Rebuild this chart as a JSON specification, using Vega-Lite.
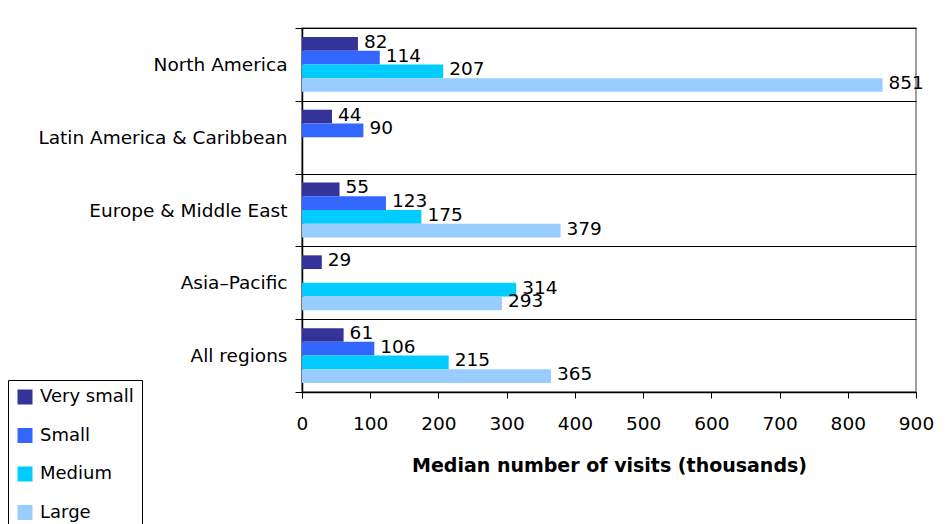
{
  "$schema": "https://vega.github.io/schema/vega-lite/v6.json",
  "autosize": {"type": "none"},
  "width": 614,
  "height": 364,
  "padding": {"left": 302, "top": 28, "right": 36, "bottom": 132},
  "background": "white",
  "config": {
    "font": "DejaVu Sans",
    "view": {"stroke": "#808080", "strokeWidth": 1.5}
  },
  "data": {
    "values": [
      {"region": "North America", "size": "Very small", "value": 82},
      {"region": "North America", "size": "Small", "value": 114},
      {"region": "North America", "size": "Medium", "value": 207},
      {"region": "North America", "size": "Large", "value": 851},
      {"region": "Latin America & Caribbean", "size": "Very small", "value": 44},
      {"region": "Latin America & Caribbean", "size": "Small", "value": 90},
      {"region": "Europe & Middle East", "size": "Very small", "value": 55},
      {"region": "Europe & Middle East", "size": "Small", "value": 123},
      {"region": "Europe & Middle East", "size": "Medium", "value": 175},
      {"region": "Europe & Middle East", "size": "Large", "value": 379},
      {"region": "Asia–Pacific", "size": "Very small", "value": 29},
      {"region": "Asia–Pacific", "size": "Medium", "value": 314},
      {"region": "Asia–Pacific", "size": "Large", "value": 293},
      {"region": "All regions", "size": "Very small", "value": 61},
      {"region": "All regions", "size": "Small", "value": 106},
      {"region": "All regions", "size": "Medium", "value": 215},
      {"region": "All regions", "size": "Large", "value": 365}
    ]
  },
  "encoding": {
    "y": {
      "field": "region",
      "type": "nominal",
      "sort": ["North America", "Latin America & Caribbean", "Europe & Middle East", "Asia–Pacific", "All regions"],
      "scale": {"paddingInner": 0, "paddingOuter": 0},
      "axis": {
        "title": null,
        "tickBand": "extent",
        "tickSize": 7,
        "tickColor": "black",
        "domainColor": "black",
        "domainWidth": 1.5,
        "grid": true,
        "gridColor": "black",
        "gridWidth": 1.2,
        "gridOpacity": 1,
        "labelFontSize": 18.5,
        "labelColor": "black",
        "labelPadding": 8,
        "labelLimit": 0,
        "labelFont": "DejaVu Sans"
      }
    },
    "yOffset": {
      "field": "size",
      "type": "nominal",
      "sort": ["Very small", "Small", "Medium", "Large"],
      "scale": {"paddingInner": 0, "paddingOuter": 0.65}
    },
    "x": {
      "field": "value",
      "type": "quantitative",
      "scale": {"domain": [0, 900], "nice": false},
      "axis": {
        "title": "Median number of visits (thousands)",
        "values": [0, 100, 200, 300, 400, 500, 600, 700, 800, 900],
        "grid": false,
        "tickSize": 6,
        "tickColor": "black",
        "domainColor": "black",
        "domainWidth": 1.5,
        "labelFontSize": 18.5,
        "labelColor": "black",
        "labelPadding": 16,
        "labelFlush": false,
        "titleFontSize": 19,
        "titleFontWeight": "bold",
        "titleColor": "black",
        "titlePadding": 24
      }
    }
  },
  "layer": [
    {
      "mark": {"type": "bar"},
      "encoding": {
        "color": {
          "field": "size",
          "type": "nominal",
          "sort": ["Very small", "Small", "Medium", "Large"],
          "scale": {
            "domain": ["Very small", "Small", "Medium", "Large"],
            "range": ["#333399", "#3366FF", "#00CCFF", "#99CCFF"]
          },
          "legend": {
            "title": null,
            "orient": "none",
            "legendX": -294,
            "legendY": 352,
            "symbolType": "square",
            "symbolSize": 225,
            "symbolStrokeWidth": 0,
            "labelFontSize": 18,
            "labelColor": "black",
            "labelOffset": 6,
            "rowPadding": 20.5,
            "padding": 8,
            "strokeColor": "black",
            "fillColor": "white"
          }
        }
      }
    },
    {
      "mark": {"type": "text", "align": "left", "baseline": "middle", "dx": 6, "dy": -2, "fontSize": 18.5, "color": "black"},
      "encoding": {
        "text": {"field": "value", "type": "quantitative"}
      }
    }
  ]
}
